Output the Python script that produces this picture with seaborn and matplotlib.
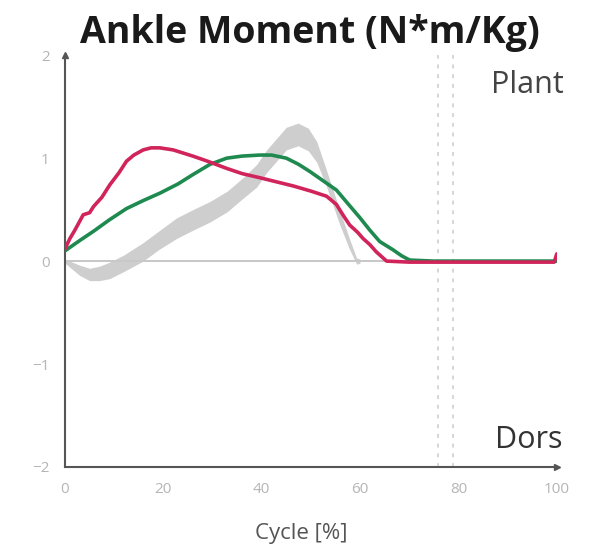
import numpy as np
import pandas as pd
import matplotlib
matplotlib.use("Agg")
import matplotlib.pyplot as plt
import seaborn as sns

# ---- data ----
red_x = [0, 1, 2, 3.7, 5, 5.8, 7.5, 9.1, 11, 12.5, 14, 15.9, 17.5, 19.3, 22, 26, 29, 32.9, 36, 39.6, 43, 46.4, 50, 53.2, 55.2, 56.5, 57.9, 59.5, 60.6, 62, 63.3, 65.4, 70, 80, 90, 99.5, 100]
red_y = [0.12, 0.22, 0.3, 0.45, 0.47, 0.53, 0.62, 0.74, 0.86, 0.97, 1.03, 1.08, 1.10, 1.10, 1.08, 1.02, 0.97, 0.90, 0.85, 0.81, 0.77, 0.73, 0.68, 0.63, 0.55, 0.45, 0.35, 0.28, 0.22, 0.16, 0.09, 0.0, -0.01, -0.01, -0.01, -0.01, 0.07]

green_x = [0, 3, 5.8, 9, 12.5, 16, 19.3, 23, 26, 29.5, 32.9, 36, 39.6, 42, 45, 47.5, 49.8, 52.5, 55.2, 57.5, 60, 62, 64, 66.7, 68.5, 70.1, 75, 85, 100]
green_y = [0.1, 0.2, 0.29, 0.4, 0.51, 0.59, 0.66, 0.75, 0.84, 0.94, 1.0, 1.02, 1.03, 1.03, 1.0, 0.94, 0.87, 0.78, 0.69, 0.56, 0.42, 0.30, 0.19, 0.11, 0.05, 0.01, 0.0, 0.0, 0.0]

norm_x = [0, 1, 3, 5, 7, 9.1, 12, 15.9, 19, 22.7, 26, 29.5, 33, 36.2, 39, 41, 43, 45, 47.4, 49.5, 51.2, 53.2, 55.9, 57.9, 59.3, 60]
norm_mean = [0.0, -0.03, -0.09, -0.13, -0.12, -0.09, -0.02, 0.09, 0.2, 0.32, 0.4, 0.48, 0.58, 0.71, 0.83, 0.97, 1.08, 1.19, 1.23, 1.18, 1.06, 0.8, 0.42, 0.16, 0.0, 0.0]
norm_sd = [0.02, 0.03, 0.05, 0.06, 0.07, 0.08, 0.08, 0.09, 0.09, 0.1, 0.1, 0.1, 0.1, 0.1, 0.11, 0.11, 0.11, 0.11, 0.11, 0.11, 0.1, 0.08, 0.07, 0.05, 0.03, 0.02]

toe_off = [75.8, 78.9]

x_ticks = [0, 20, 40, 60, 80, 100]
y_ticks = [-2, -1, 0, 1, 2]

title = "Ankle Moment (N*m/Kg)"
xlabel = "Cycle [%]"

# ---- plot ----
sns.set_style("white")
plt.rcParams['font.family'] = ['Open Sans', 'DejaVu Sans']

fig = plt.figure(figsize=(5.91, 5.52), dpi=100)
ax = fig.add_axes([0.110, 0.154, 0.832, 0.746])

nx = np.array(norm_x); nm = np.array(norm_mean); ns = np.array(norm_sd)
ax.fill_between(nx, nm - ns, nm + ns, color="#c9c9c9", alpha=0.9, lw=0, zorder=1)

ax.axhline(0, color="#bdbdbd", lw=1.2, zorder=0.5)
for t in toe_off:
    ax.axvline(t, color="#d6d6d6", lw=1.4, ls=(0, (2, 3)), zorder=0.5)

df = pd.concat([
    pd.DataFrame({"x": green_x, "y": green_y, "cond": "green"}),
    pd.DataFrame({"x": red_x, "y": red_y, "cond": "red"}),
])
sns.lineplot(data=df, x="x", y="y", hue="cond", palette={"green": "#1f8a4f", "red": "#d0245a"},
             lw=2.6, ax=ax, legend=False, sort=False, estimator=None, zorder=3)

ax.set_xlim(0, 100)
ax.set_ylim(-2, 2)
ax.set_xticks(x_ticks)
ax.set_yticks(y_ticks)
ax.set_yticklabels([str(v).replace("-", "\u2212") for v in y_ticks])
ax.tick_params(axis="both", colors="#b5b5b5", labelsize=11, length=0, pad=11)
for s in ["top", "right"]:
    ax.spines[s].set_visible(False)
for s in ["left", "bottom"]:
    ax.spines[s].set_color("#555555")
    ax.spines[s].set_linewidth(1.5)
ax.plot(1, 0, ">", color="#555555", ms=5, transform=ax.transAxes, clip_on=False)
ax.plot(0, 1, "^", color="#555555", ms=5, transform=ax.transAxes, clip_on=False)

ax.set_xlabel(xlabel, fontsize=16, color="#555555")
ax.xaxis.set_label_coords(0.48, -0.135)
ax.set_ylabel("")
fig.text(0.525, 0.922, title, fontsize=27, fontweight="bold", ha="center", va="baseline", color="#1a1a1a")
ax.text(1.015, 0.965, "Plant", transform=ax.transAxes, ha="right", va="top", fontsize=22, color="#444444")
ax.text(1.012, 0.03, "Dors", transform=ax.transAxes, ha="right", va="bottom", fontsize=22, color="#333333")

fig.savefig("out.png", dpi=100)
